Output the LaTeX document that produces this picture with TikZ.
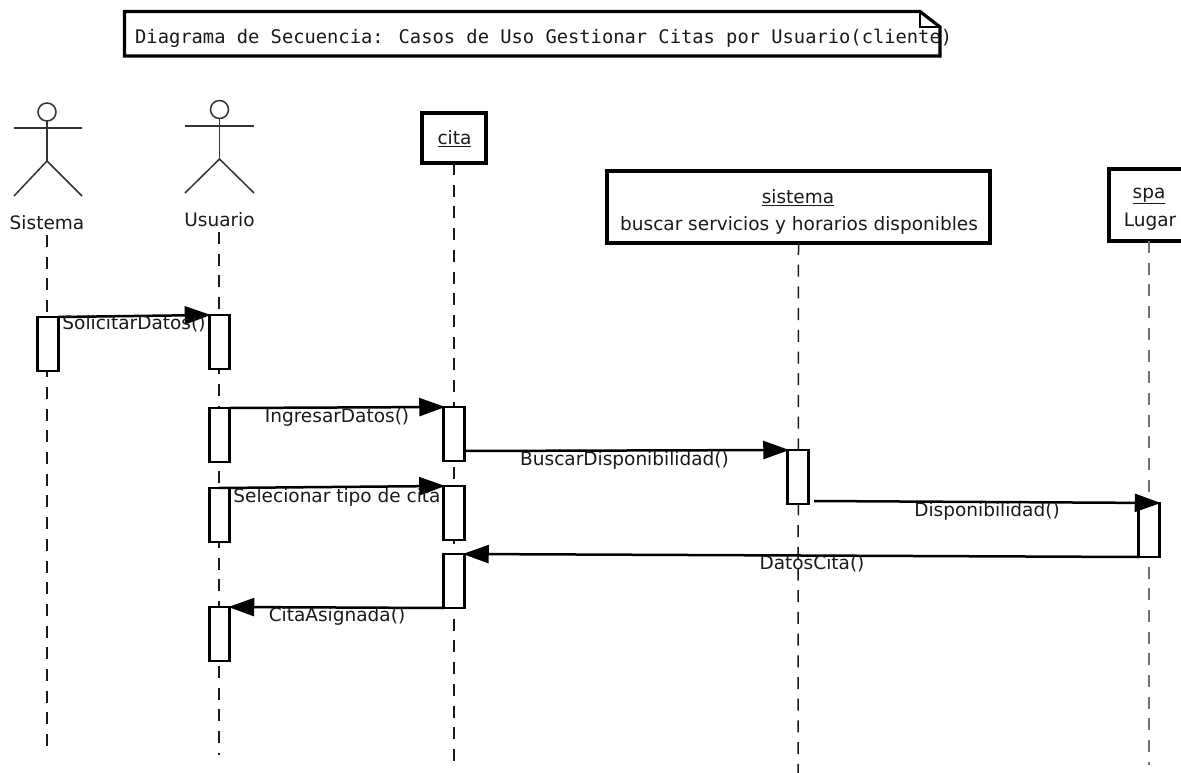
\documentclass[tikz,border=0pt]{standalone}
\usepackage{fontspec}
\setmainfont{DejaVu Sans}
\newfontfamily\monof{DejaVu Sans Mono}
\usetikzlibrary{arrows.meta}
\definecolor{ink}{HTML}{1A1A1A}
\tikzset{
  x=1pt,y=-1pt,
  lab/.style={font=\fontsize{18.5}{22}\selectfont,text=ink,inner sep=0pt,outer sep=0pt,align=center},
  msgtext/.style={font=\fontsize{18.5}{22}\selectfont,text=ink,inner sep=0pt,outer sep=0pt},
  act/.style={draw=black,fill=white,line width=2.6pt,minimum width=20.5pt,minimum height=54pt,inner sep=0pt,outer sep=0pt},
  objbox/.style={draw=black,fill=white,line width=3.4pt,inner sep=0pt,outer sep=0pt},
  msg/.style={draw=black,line width=2.5pt,shorten >=-1.5pt,-{Triangle[length=26pt,width=18pt]}},
  life/.style={draw=ink,line width=1.5pt,dash pattern=on 12pt off 9.7pt},
  lifegray/.style={draw=black!55,line width=1.5pt,dash pattern=on 12pt off 9.7pt},
  limb/.style={draw=black!80,line width=1.5pt},
  head/.style={draw=black!80,fill=white,line width=1.5pt,circle,minimum size=18pt,inner sep=0pt,outer sep=0pt},
}
\begin{document}
\begin{tikzpicture}
\useasboundingbox[fill=white] (0,0) rectangle (1181,773);

% note
\draw[black,line width=3.2pt,line join=miter] (124.5,56) -- (124.5,11.5) -- (920,11.5) -- (940,27) -- (940,56) -- cycle;
\draw[black,line width=1.8pt] (920,11.5) -- (920,27) -- (940,27);
\node[anchor=west,inner sep=0pt,text=ink,font=\monof\fontsize{18.76}{22}\selectfont] (title) at (135,38) {Diagrama de Secuencia: Casos de Uso Gestionar Citas por Usuario(cliente)};

% lifeline ends
\coordinate (sisTop) at (47,235);
\coordinate (sisEnd) at (47,752);
\coordinate (usuTop) at (219,232);
\coordinate (usuEnd) at (219,755);
\coordinate (citEnd) at (454,767);
\coordinate (sysEnd) at (798,773);
\coordinate (spaEnd) at (1149,765);

% object boxes
\node[objbox,minimum width=64pt,minimum height=50pt] (cita) at (454,138) {};
\node[objbox,minimum width=383pt,minimum height=72pt] (sistema) at (798.5,207) {};
\node[objbox,minimum width=82pt,minimum height=72pt] (spa) at (1150,205) {};
\node[lab] (citaT) at (454.5,139) {\underline{cita}};
\node[lab] (sistemaT) at (798,197.5) {\underline{sistema}};
\node[lab] (sistemaD) at (799,225) {buscar servicios y horarios disponibles};
\node[lab] (spaT) at (1149,196) {\underline{spa}};
\node[lab] (spaD) at (1150,222) {Lugar};

% actor Sistema
\node[head] (sisHead) at (47,112) {};
\coordinate (sisHip) at (47,161);
\coordinate (sisAL) at (14,128);
\coordinate (sisAR) at (82,128);
\coordinate (sisLL) at (14,196);
\coordinate (sisLR) at (82,196);
\draw[limb] (sisHead) -- (sisHip);
\draw[limb] (sisAL) -- (sisAR);
\draw[limb] (sisLL) -- (sisHip) -- (sisLR);
\node[lab] (sisT) at (47,223) {Sistema};

% actor Usuario
\node[head] (usuHead) at (219.5,109.5) {};
\coordinate (usuHip) at (219.5,159);
\coordinate (usuAL) at (185,126);
\coordinate (usuAR) at (254,126);
\coordinate (usuLL) at (185,193);
\coordinate (usuLR) at (254,193);
\draw[limb] (usuHead) -- (usuHip);
\draw[limb] (usuAL) -- (usuAR);
\draw[limb] (usuLL) -- (usuHip) -- (usuLR);
\node[lab] (usuT) at (219.5,219.5) {Usuario};

% lifelines
\draw[life] (sisTop) -- (sisEnd);
\draw[life] (usuTop) -- (usuEnd);
\draw[life] (cita.south) -- (citEnd);
\draw[life] (sistema.south) -- (sysEnd);
\draw[lifegray] (spa.south -| spaEnd) -- (spaEnd);

% activations
\node[act] (a1) at (48,344) {};
\node[act] (u1) at (219.5,342) {};
\node[act] (u2) at (219.5,435) {};
\node[act] (c1) at (454,434) {};
\node[act] (s1) at (798,477) {};
\node[act] (u3) at (219.5,515) {};
\node[act] (c2) at (454,513) {};
\node[act] (l1) at (1149,530) {};
\node[act] (c3) at (454,581) {};
\node[act] (u4) at (219.5,634) {};

% messages
\coordinate (s1out) at (814,501);
\coordinate (u3top) at (219,488);
\draw[msg] (a1.north east) -- (u1.north west);
\draw[msg] (u2.north east) -- (c1.north west);
\draw[msg] (c1.east |- 0,451) -- (s1.north west);
\draw[msg] (u3top) -- (c2.north west);
\draw[msg] (s1out) -- (l1.north east);
\draw[msg] (l1.south west) -- (c3.north east);
\draw[msg] (c3.south west) -- (u4.north east);

% message labels
\node[msgtext] (m1) at (134,324) {SolicitarDatos()};
\node[msgtext] (m2) at (337,417) {IngresarDatos()};
\node[msgtext] (m3) at (624.5,460) {BuscarDisponibilidad()};
\node[msgtext] (m4) at (337,497) {Selecionar tipo de cita};
\node[msgtext] (m5) at (987,511) {Disponibilidad()};
\node[msgtext] (m6) at (812,564) {DatosCita()};
\node[msgtext] (m7) at (337,616) {CitaAsignada()};
\end{tikzpicture}
\end{document}
